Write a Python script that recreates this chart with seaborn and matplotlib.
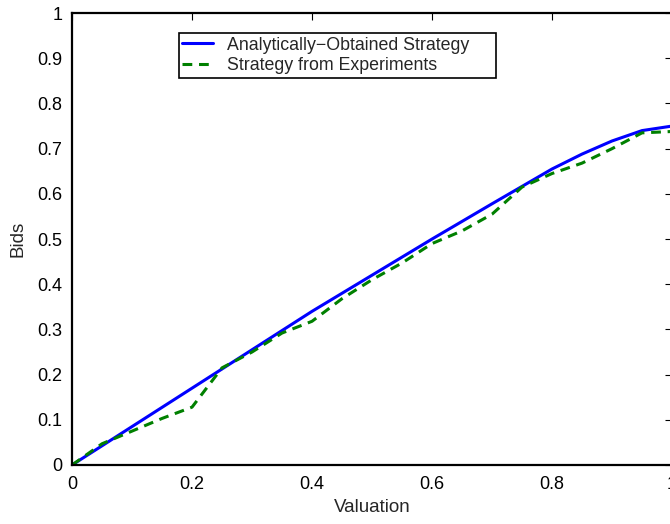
import matplotlib
matplotlib.use("Agg")
import matplotlib.pyplot as plt
import seaborn as sns
import pandas as pd

# Data
x_analytic = [0.0, 0.1, 0.2, 0.3, 0.4, 0.5, 0.6, 0.7, 0.8, 0.85, 0.9, 0.95, 1.0]
y_analytic = [0.0, 0.085, 0.17, 0.255, 0.34, 0.42, 0.50, 0.578, 0.655, 0.688, 0.717, 0.74, 0.75]

x_exp = [0.0, 0.05, 0.1, 0.15, 0.2, 0.25, 0.3, 0.35, 0.4, 0.45, 0.5, 0.55, 0.6,
         0.65, 0.7, 0.75, 0.8, 0.85, 0.9, 0.95, 1.0]
y_exp = [0.0, 0.047, 0.075, 0.103, 0.128, 0.215, 0.25, 0.292, 0.318, 0.368, 0.41, 0.447, 0.49,
         0.518, 0.555, 0.615, 0.645, 0.668, 0.70, 0.735, 0.738]

label_analytic = "Analytically\u2212Obtained Strategy"
label_exp = "Strategy from Experiments"
x_ticks = [0, 0.2, 0.4, 0.6, 0.8, 1]
x_ticklabels = ["0", "0.2", "0.4", "0.6", "0.8", "1"]
y_ticks = [0, 0.1, 0.2, 0.3, 0.4, 0.5, 0.6, 0.7, 0.8, 0.9, 1]
y_ticklabels = ["0", "0.1", "0.2", "0.3", "0.4", "0.5", "0.6", "0.7", "0.8", "0.9", "1"]

sns.set_theme(style="white")
plt.rcParams['font.family'] = ['Liberation Sans', 'DejaVu Sans']

df_a = pd.DataFrame({"Valuation": x_analytic, "Bids": y_analytic})
df_e = pd.DataFrame({"Valuation": x_exp, "Bids": y_exp})

fig = plt.figure(figsize=(6.7, 5.24), dpi=100)
ax = fig.add_axes([0.1075, 0.1126, 0.8955, 0.8624])

sns.lineplot(data=df_a, x="Valuation", y="Bids", ax=ax, color=(0, 0, 1),
             linewidth=2.2, label=label_analytic)
sns.lineplot(data=df_e, x="Valuation", y="Bids", ax=ax, color=(0, 0.5, 0),
             linewidth=2.2, linestyle=(0, (3.2, 2.2)), label=label_exp)

ax.set_xlim(0, 1)
ax.set_ylim(0, 1)
ax.set_xticks(x_ticks)
ax.set_xticklabels(x_ticklabels)
ax.set_yticks(y_ticks)
ax.set_yticklabels(y_ticklabels)
ax.tick_params(direction="in", length=5, width=0.8, top=True, right=True,
               labelsize=13, colors="black")
ax.tick_params(axis="x", pad=8)
ax.tick_params(axis="y", pad=7)
for s in ax.spines.values():
    s.set_visible(True)
    s.set_color("black")
    s.set_linewidth(1.6)
ax.set_xlabel("Valuation", fontsize=13.5, labelpad=4)
ax.set_ylabel("Bids", fontsize=13.5, labelpad=8)

leg = ax.legend(loc="upper left", bbox_to_anchor=(0.178, 0.856, 0.528, 0.1),
                mode="expand", fontsize=12.8,
                frameon=True, fancybox=False, edgecolor="black", framealpha=1,
                handlelength=1.75, borderpad=0.2, labelspacing=0.2, handletextpad=0.75,
                borderaxespad=0)
leg.get_frame().set_linewidth(1.2)

fig.savefig("out.png", dpi=100)
